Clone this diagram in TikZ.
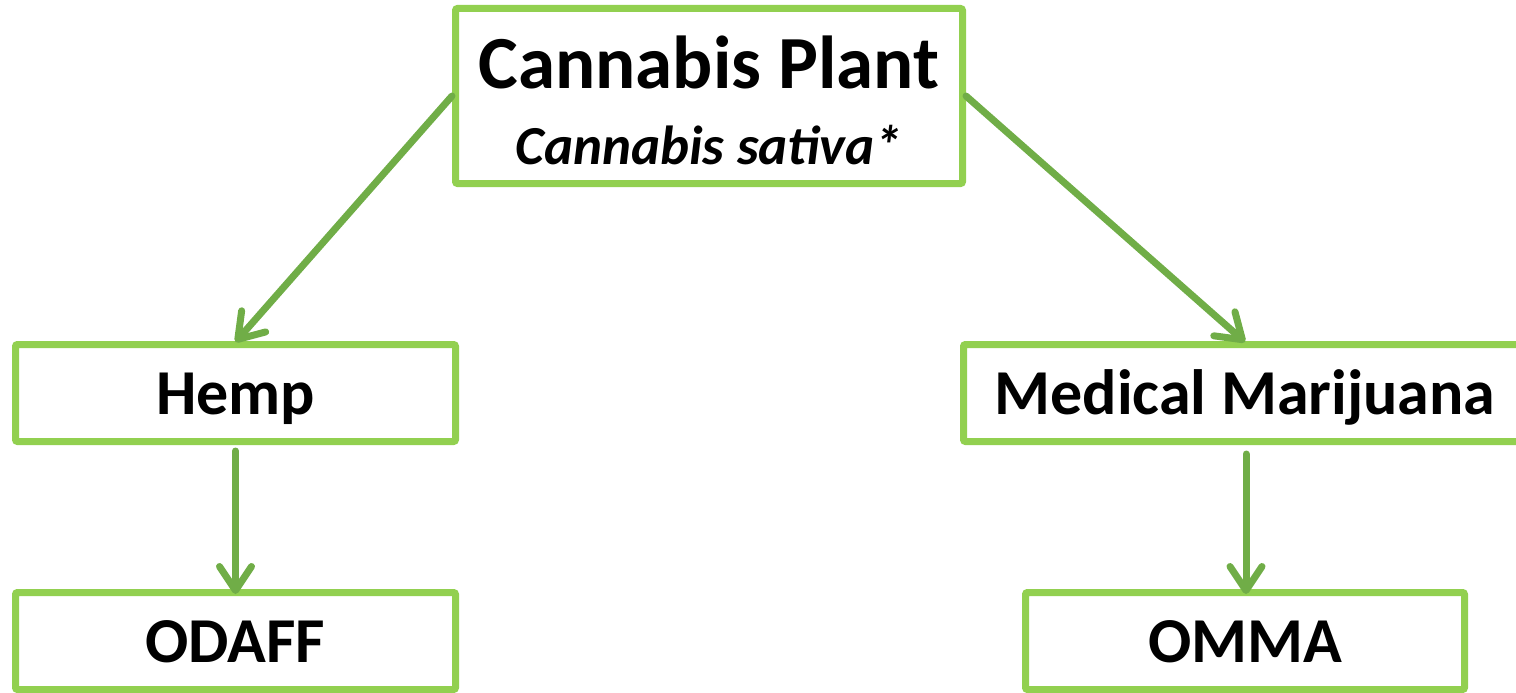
\documentclass[tikz,border=0pt]{standalone}
\usepackage{fontspec}
\setmainfont{Carlito}
\usetikzlibrary{arrows.meta}
\definecolor{boxgreen}{HTML}{92D050}
\definecolor{arrgreen}{HTML}{70AD47}
\tikzset{
  gbox/.style={draw=boxgreen, line width=7pt, rounded corners=2pt, fill=white,
    inner sep=0pt, align=center, font=\fontsize{64}{76}\selectfont\bfseries,
    text height=52pt, text depth=10pt},
  garrow/.style={draw=arrgreen, line width=7pt, line cap=round,
    -{Straight Barb[length=24pt, width=32pt, line cap=round, line join=round]}}
}
\begin{document}
\begin{tikzpicture}[x=1pt, y=-1pt]
\useasboundingbox (0,0) rectangle (1516,693);
\clip (0,0) rectangle (1516,693);
\node[gbox, minimum width=507pt, minimum height=175pt,
  font=\fontsize{75}{76}\selectfont\bfseries, text height=140pt, text depth=4pt]
  (plant) at (709,96) {Cannabis Plant\\{\fontsize{55}{76}\selectfont\itshape Cannabis sativa*}};
\node[gbox, minimum width=440pt, minimum height=97pt] (hemp) at (235.5,393) {Hemp};
\node[gbox, minimum width=563pt, minimum height=97pt] (mm) at (1245,393) {Medical Marijuana};
\node[gbox, minimum width=440pt, minimum height=97pt] (odaff) at (235.5,641) {ODAFF};
\node[gbox, minimum width=439pt, minimum height=97pt] (omma) at (1245,641) {OMMA};
\draw[garrow] (plant.west) -- ([yshift=-1pt]hemp.north);
\draw[garrow] (plant.east) -- ([yshift=-1pt]mm.north);
\draw[garrow, shorten <=6pt] (hemp.south) -- ([yshift=-5pt]odaff.north);
\draw[garrow, shorten <=9pt] ([xshift=1pt]mm.south) -- ([xshift=1pt,yshift=-5pt]omma.north);
\end{tikzpicture}
\end{document}
